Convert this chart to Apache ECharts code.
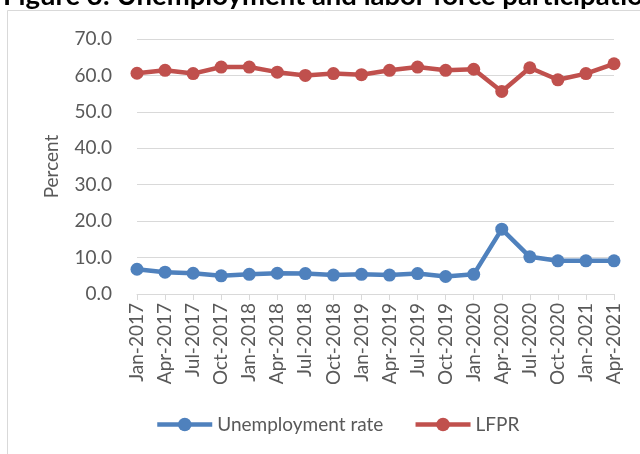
<!DOCTYPE html>
<html>
<head>
<meta charset="utf-8">
<script src="https://cdn.jsdelivr.net/npm/echarts@6/dist/echarts.min.js"></script>
<style>
html,body{margin:0;padding:0;background:#fff;}
#c{width:640px;height:454px;}
</style>
</head>
<body>
<div id="c"></div>
<script>
var categories = ["Jan-2017","Apr-2017","Jul-2017","Oct-2017","Jan-2018","Apr-2018","Jul-2018","Oct-2018","Jan-2019","Apr-2019","Jul-2019","Oct-2019","Jan-2020","Apr-2020","Jul-2020","Oct-2020","Jan-2021","Apr-2021"];
var unemploymentRate = [6.8, 6.0, 5.7, 5.0, 5.4, 5.7, 5.6, 5.2, 5.4, 5.2, 5.6, 4.8, 5.4, 17.8, 10.2, 9.1, 9.1, 9.1];
var lfpr = [60.6, 61.4, 60.5, 62.3, 62.3, 60.9, 60.0, 60.5, 60.2, 61.4, 62.3, 61.4, 61.7, 55.6, 62.1, 58.8, 60.5, 63.2];
var yTicks = {min: 0, max: 70, interval: 10};

var FONT = 'Lato';
var GRAY = '#595959';
var chart = echarts.init(document.getElementById('c'), null, {renderer: 'canvas'});
chart.setOption({
  animation: false,
  backgroundColor: '#fff',
  textStyle: {fontFamily: FONT},
  graphic: [
    {type: 'rect', z: 0, shape: {x: 7.5, y: 10.5, width: 700, height: 500},
     style: {fill: 'none', stroke: '#d9d9d9', lineWidth: 1}},
    {type: 'text', z: 10, left: 3, top: -18,
     style: {text: 'Figure 3: Unemployment and labor force participation rates', fontFamily: FONT,
             fontWeight: 'bold', fontSize: 27.5, fill: '#000'}}
  ],
  grid: {left: 137, right: 26, top: 39, bottom: 160, containLabel: false},
  legend: {
    left: 150, top: 410,
    itemWidth: 55, itemHeight: 17, itemGap: 30,
    lineStyle: {width: 4.5},
    textStyle: {fontFamily: FONT, fontSize: 19, color: GRAY},
    data: ['Unemployment rate', 'LFPR']
  },
  xAxis: {
    type: 'category', data: categories, boundaryGap: false,
    axisLine: {lineStyle: {color: '#d9d9d9', width: 1}},
    axisTick: {show: true, length: 6, lineStyle: {color: '#d9d9d9'}},
    axisLabel: {rotate: 90, margin: 9, fontFamily: FONT, fontSize: 19, color: GRAY, interval: 0}
  },
  yAxis: {
    type: 'value', min: yTicks.min, max: yTicks.max, interval: yTicks.interval,
    name: 'Percent', nameLocation: 'middle', nameGap: 76, nameRotate: 90,
    nameTextStyle: {fontFamily: FONT, fontSize: 19, color: GRAY},
    axisLine: {show: false}, axisTick: {show: false},
    splitLine: {lineStyle: {color: '#d9d9d9', width: 1}},
    axisLabel: {margin: 25, fontFamily: FONT, fontSize: 19, color: GRAY,
                formatter: function (v) { return v.toFixed(1); }}
  },
  series: [
    {name: 'Unemployment rate', type: 'line', data: unemploymentRate,
     symbol: 'circle', symbolSize: 13,
     lineStyle: {color: '#4f81bd', width: 4.5}, itemStyle: {color: '#4f81bd'}},
    {name: 'LFPR', type: 'line', data: lfpr,
     symbol: 'circle', symbolSize: 13,
     lineStyle: {color: '#c0504d', width: 4.5}, itemStyle: {color: '#c0504d'}}
  ]
});
</script>
</body>
</html>
